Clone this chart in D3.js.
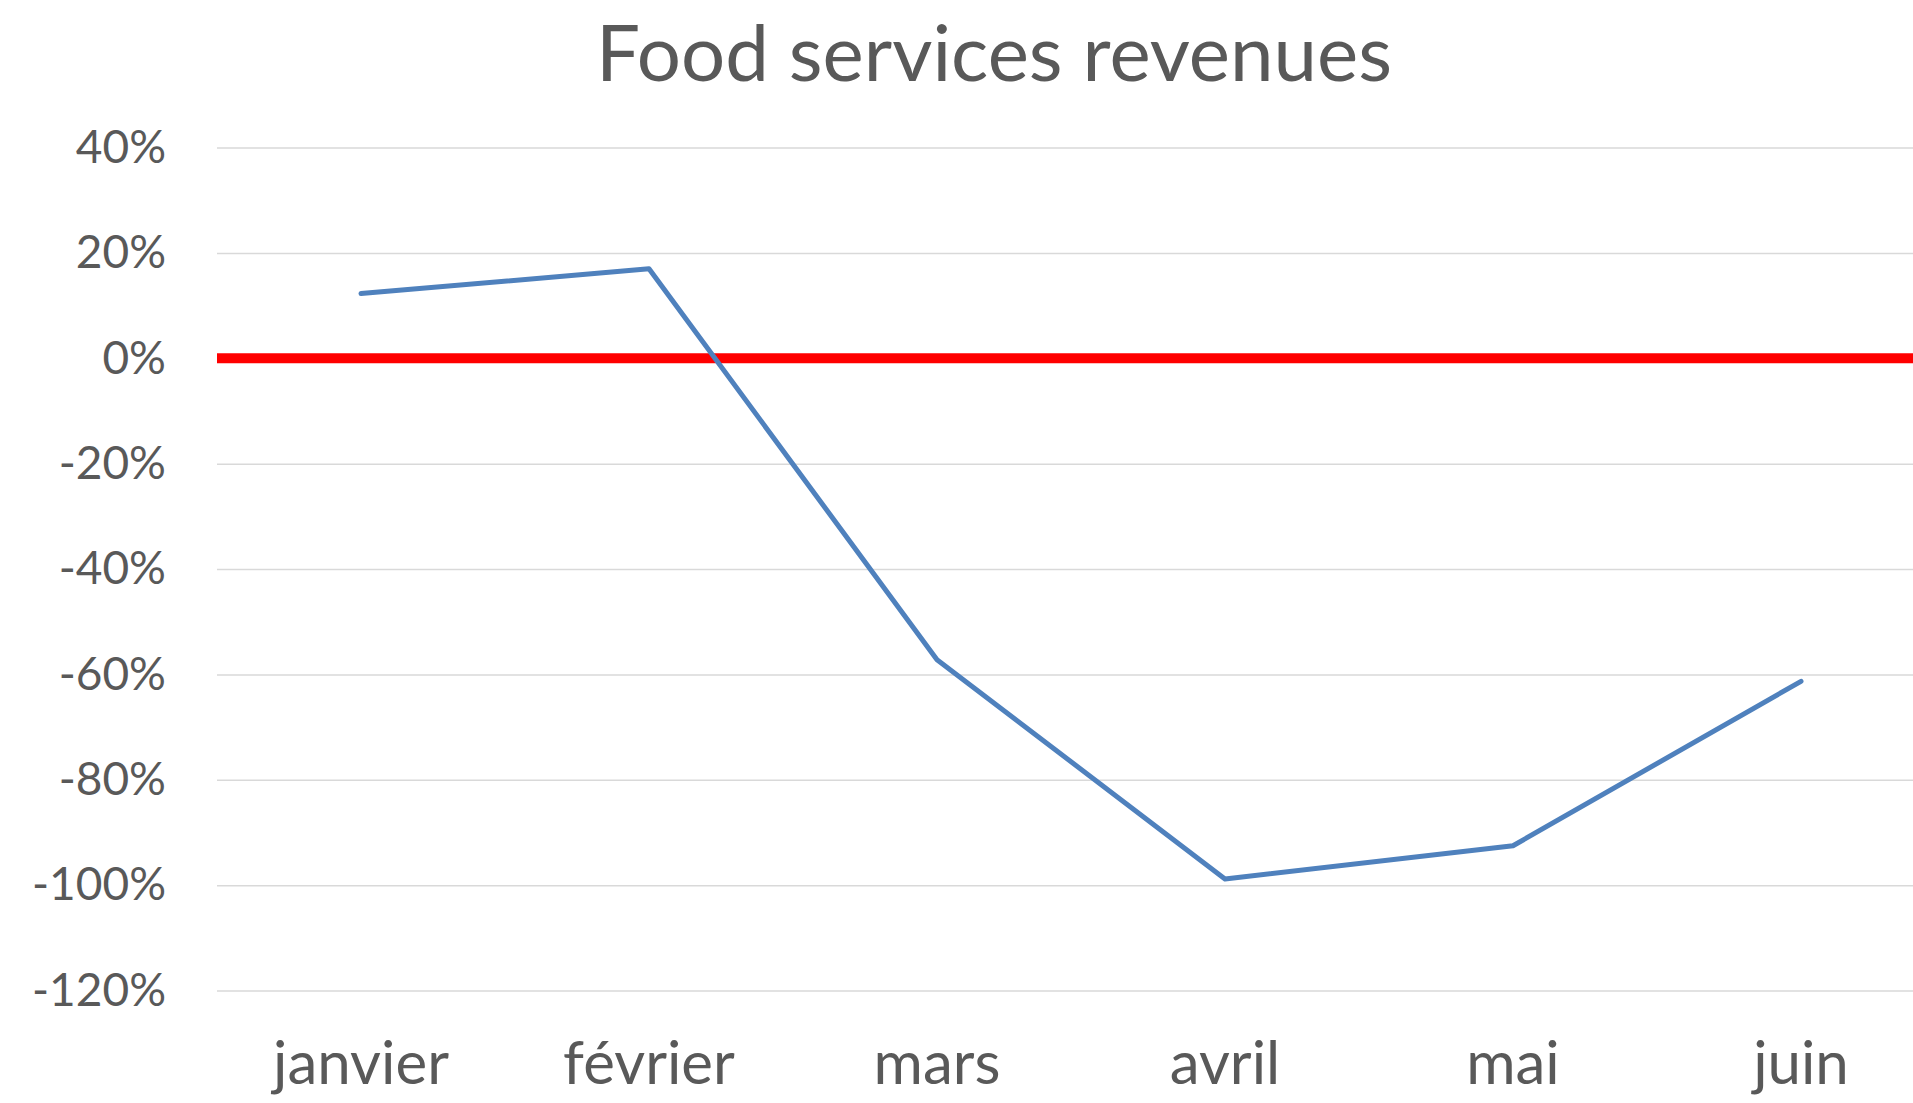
<!DOCTYPE html>
<html>
<head>
<meta charset="utf-8">
<script src="https://cdn.jsdelivr.net/npm/d3@7"></script>
<style>
  body { margin: 0; background: #fff; }
  text { font-family: Lato, "Open Sans", sans-serif; fill: #595959; }
</style>
</head>
<body>
<svg></svg>
<script>
var width = 1913,
    height = 1103;

var months = ["janvier", "février", "mars", "avril", "mai", "juin"];
var revenues = [12.3, 17.0, -57.2, -98.8, -92.5, -61.3];
var yTicks = [40, 20, 0, -20, -40, -60, -80, -100, -120];

var plotLeft = 217,
    plotTop = 147.6,
    plotBottom = 990.6,
    bandWidth = 288;

var svg = d3.select('svg')
            .attr('width', width)
            .attr('height', height);

var x = d3.scaleBand()
            .domain(months)
            .range([plotLeft, plotLeft + bandWidth * months.length])
            .padding(0);

var y = d3.scaleLinear()
            .domain([-120, 40])
            .range([plotBottom, plotTop]);

// gridlines + y labels
var yAxis = d3.axisLeft(y)
              .tickValues(yTicks)
              .tickSize(-(width - plotLeft))
              .tickPadding(51)
              .tickFormat(d => d + "%");

var gY = svg.append('g')
            .attr('transform', 'translate(' + plotLeft + ',0)')
            .call(yAxis);
gY.select('.domain').remove();
gY.selectAll('line')
    .attr('stroke', '#d9d9d9')
    .attr('stroke-width', 1.5);
gY.selectAll('text')
    .style('font-size', '46px')
    .attr('fill', '#595959');

// zero line
svg.append('line')
    .attr('x1', plotLeft)
    .attr('x2', width)
    .attr('y1', y(0))
    .attr('y2', y(0))
    .attr('stroke', '#ff0000')
    .attr('stroke-width', 10);

// x labels
svg.append('g')
    .selectAll('text')
    .data(months)
    .enter()
    .append('text')
      .attr('x', d => x(d) + x.bandwidth() / 2)
      .attr('y', 1084)
      .style('text-anchor', 'middle')
      .style('font-size', '60px')
      .text(d => d);

// series line
var line = d3.line()
              .x((d, i) => x(months[i]) + x.bandwidth() / 2)
              .y(d => y(d));

svg.append('path')
    .datum(revenues)
    .attr('d', line)
    .attr('fill', 'none')
    .attr('stroke', '#4f81bd')
    .attr('stroke-width', 5)
    .attr('stroke-linecap', 'round')
    .attr('stroke-linejoin', 'round');

// title
svg.append('text')
    .attr('x', 994)
    .attr('y', 81)
    .style('text-anchor', 'middle')
    .style('font-size', '78px')
    .text('Food services revenues');
</script>
</body>
</html>
